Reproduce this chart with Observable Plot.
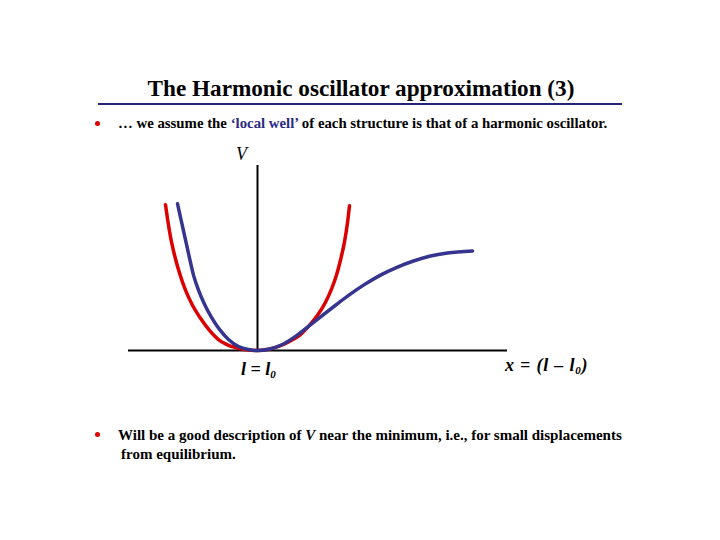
<!DOCTYPE html>
<html>
<head>
<meta charset="utf-8">
<script src="https://cdn.jsdelivr.net/npm/d3@7"></script>
<script src="https://cdn.jsdelivr.net/npm/@observablehq/plot@0.6"></script>
<style>
  html, body { margin: 0; padding: 0; background: #fff; }
  #page { position: relative; width: 720px; height: 540px; overflow: hidden; font-family: "Liberation Serif", "DejaVu Serif", serif; color: #000; }
  .abs { position: absolute; white-space: nowrap; }
  #title { left: 0; width: 720px; top: 75px; text-align: center; font-weight: bold; font-size: 23.2px; padding-left: 2px; box-sizing: border-box; }
  #rule { left: 98px; top: 103px; width: 524px; height: 2px; background: #23237a; }
  .dot { width: 5px; height: 5px; border-radius: 50%; background: #e00000; }
  .txt { font-weight: bold; }
  .navy { color: #2b2b85; }
  #chart { position: absolute; left: 0; top: 140px; }
  .lab { font-style: italic; font-weight: bold; font-size: 18px; }
  .lab sub { font-size: 11px; vertical-align: -3px; }
</style>
</head>
<body>
<div id="page">
  <div id="title" class="abs">The Harmonic oscillator approximation (3)</div>
  <div id="rule" class="abs"></div>
  <div class="abs dot" style="left:95px; top:121px;"></div>
  <div class="abs txt" style="left:118px; top:115px; font-size:14.8px;">… we assume the <span class="navy">‘local well’</span> of each structure is that of a harmonic oscillator.</div>
  <div id="chart"></div>
  <div class="abs" style="left:236px; top:144px; font-style:italic; font-size:18px;">V</div>
  <div class="abs lab" style="left:241px; top:359px;">l = l<sub>0</sub></div>
  <div class="abs lab" style="left:505px; top:355px; letter-spacing:0.8px;">x = (l – l<sub>0</sub>)</div>
  <div class="abs dot" style="left:95px; top:432px;"></div>
  <div class="abs txt" style="left:118px; top:427px; font-size:15px;">Will be a good description of <i>V</i> near the minimum, i.e., for small displacements</div>
  <div class="abs txt" style="left:121px; top:446px; font-size:15px;">from equilibrium.</div>
</div>
<script>
// Harmonic approximation (red)
const redX = [-0.92, -0.90, -0.87, -0.83, -0.78, -0.72, -0.65, -0.57, -0.48, -0.38, -0.26, -0.13, 0.00, 0.10, 0.21, 0.32, 0.42, 0.51, 0.60, 0.68, 0.74, 0.79, 0.83, 0.87, 0.90, 0.92];
const redY = [1.45, 1.31, 1.13, 0.95, 0.77, 0.60, 0.45, 0.32, 0.20, 0.10, 0.04, 0.01, 0.00, 0.01, 0.04, 0.09, 0.15, 0.24, 0.35, 0.48, 0.61, 0.75, 0.90, 1.08, 1.27, 1.44];
const blueX = [-0.80, -0.76, -0.72, -0.68, -0.64, -0.59, -0.53, -0.46, -0.38, -0.29, -0.19, -0.09, 0.00, 0.12, 0.25, 0.38, 0.51, 0.65, 0.78, 0.90, 1.06, 1.23, 1.40, 1.56, 1.73, 1.90, 2.15];
const blueY = [1.46, 1.28, 1.10, 0.92, 0.75, 0.60, 0.46, 0.33, 0.21, 0.11, 0.04, 0.01, 0.00, 0.015, 0.06, 0.14, 0.24, 0.35, 0.45, 0.54, 0.65, 0.75, 0.83, 0.89, 0.94, 0.97, 0.99];
const xDomain = [-1.29, 2.50];
const yDomain = [0, 1.84];

const red = redX.map((x, i) => ({x, y: redY[i]}));
const blue = blueX.map((x, i) => ({x, y: blueY[i]}));

const chart = Plot.plot({
  width: 720,
  height: 240,
  marginLeft: 128,
  marginRight: 213,
  marginTop: 25,
  marginBottom: 30,
  x: {domain: xDomain, axis: null},
  y: {domain: yDomain, axis: null},
  style: {background: "transparent", overflow: "visible"},
  marks: [
    Plot.ruleY([0], {stroke: "#000", strokeWidth: 2}),
    Plot.ruleX([0], {stroke: "#000", strokeWidth: 2}),
    Plot.line(red, {x: "x", y: "y", stroke: "#dd0000", strokeWidth: 3.5, curve: "monotone-x"}),
    Plot.line(blue, {x: "x", y: "y", stroke: "#35358f", strokeWidth: 3.5, curve: "monotone-x"})
  ]
});
document.getElementById("chart").appendChild(chart);
</script>
</body>
</html>
